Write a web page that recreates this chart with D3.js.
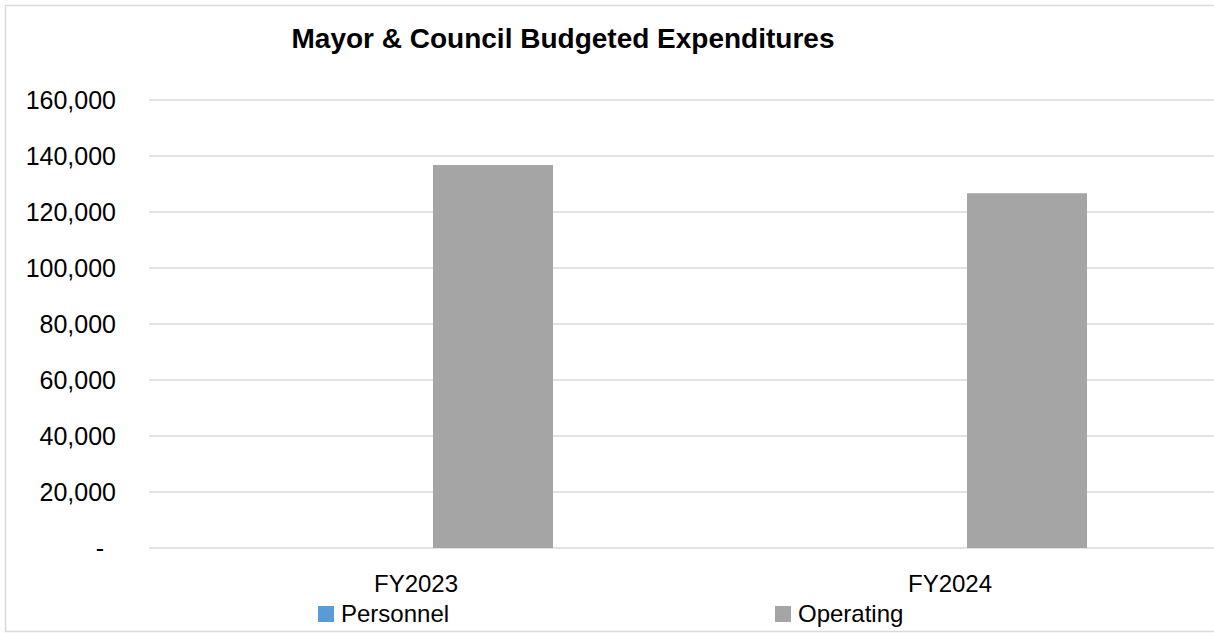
<!DOCTYPE html>
<html>
<head>
<meta charset="utf-8">
<script src="https://cdn.jsdelivr.net/npm/d3@7"></script>
<style>
  html, body { margin: 0; padding: 0; background: #fff; }
  svg { display: block; font-family: "Liberation Sans", Arial, sans-serif; }
</style>
</head>
<body>
<svg id="chart" width="1214" height="633"></svg>
<script>
// Budget data
const categories = ["FY2023", "FY2024"];
const seriesNames = ["Personnel", "Operating"];
const personnel = [0, 0];
const operating = [136800, 126700];
const yTicks = [0, 20000, 40000, 60000, 80000, 100000, 120000, 140000, 160000];
const titleText = "Mayor & Council Budgeted Expenditures";

const colors = { Personnel: "#5b9bd5", Operating: "#a5a5a5" };
const values = { Personnel: personnel, Operating: operating };

const svg = d3.select("#chart");

// chart frame
svg.append("rect")
  .attr("x", 5.5).attr("y", 5.5)
  .attr("width", 1220).attr("height", 626)
  .attr("fill", "#fff")
  .attr("stroke", "#d9d9d9").attr("stroke-width", 1.5);

const plot = { left: 149, right: 1217, top: 100, bottom: 548 };

const y = d3.scaleLinear().domain([0, 160000]).range([plot.bottom, plot.top]);
const x0 = d3.scaleBand().domain(categories).range([plot.left, plot.right]).padding(0);
const x1 = d3.scaleBand().domain(seriesNames).range([130, 404]).paddingInner(34 / 154).paddingOuter(0);

// gridlines
svg.append("g")
  .selectAll("line")
  .data(yTicks)
  .join("line")
  .attr("x1", plot.left).attr("x2", plot.right)
  .attr("y1", d => y(d)).attr("y2", d => y(d))
  .attr("stroke", "#d9d9d9").attr("stroke-width", 1.5);

// y axis labels
const fmt = d3.format(",");
const yAxis = d3.axisLeft(y)
  .tickValues(yTicks)
  .tickSize(0)
  .tickPadding(33)
  .tickFormat(d => d === 0 ? "-" : fmt(d));
const gy = svg.append("g").attr("transform", `translate(${plot.left},0)`).call(yAxis);
gy.select(".domain").remove();
gy.selectAll("text")
  .attr("font-size", 25)
  .attr("fill", "#000")
  .attr("font-family", "Liberation Sans, Arial, sans-serif")
  .attr("dx", d => d === 0 ? -12 : 0);

// bars
const rows = categories.map((c, i) => ({ cat: c, items: seriesNames.map(s => ({ s, v: values[s][i] })) }));
svg.append("g")
  .selectAll("g")
  .data(rows)
  .join("g")
  .attr("transform", d => `translate(${x0(d.cat)},0)`)
  .selectAll("rect")
  .data(d => d.items)
  .join("rect")
  .attr("x", d => x1(d.s))
  .attr("width", x1.bandwidth())
  .attr("y", d => y(d.v))
  .attr("height", d => y(0) - y(d.v))
  .attr("fill", d => colors[d.s]);

// x axis labels
const xAxis = d3.axisBottom(x0).tickSize(0).tickPadding(27);
const gx = svg.append("g").attr("transform", `translate(0,${plot.bottom})`).call(xAxis);
gx.select(".domain").remove();
gx.selectAll("text")
  .attr("font-size", 24)
  .attr("fill", "#000")
  .attr("font-family", "Liberation Sans, Arial, sans-serif");

// title
svg.append("text")
  .attr("x", 563).attr("y", 48)
  .attr("text-anchor", "middle")
  .attr("font-size", 28)
  .attr("font-weight", "bold")
  .attr("fill", "#000")
  .text(titleText);

// legend
const legendX = { Personnel: 318, Operating: 775 };
const lg = svg.append("g")
  .selectAll("g")
  .data(seriesNames)
  .join("g")
  .attr("transform", d => `translate(${legendX[d]},606)`);
lg.append("rect").attr("width", 16).attr("height", 16).attr("fill", d => colors[d]);
lg.append("text")
  .attr("x", 23).attr("y", 15.5)
  .attr("font-size", 24)
  .attr("fill", "#000")
  .text(d => d);
</script>
</body>
</html>
